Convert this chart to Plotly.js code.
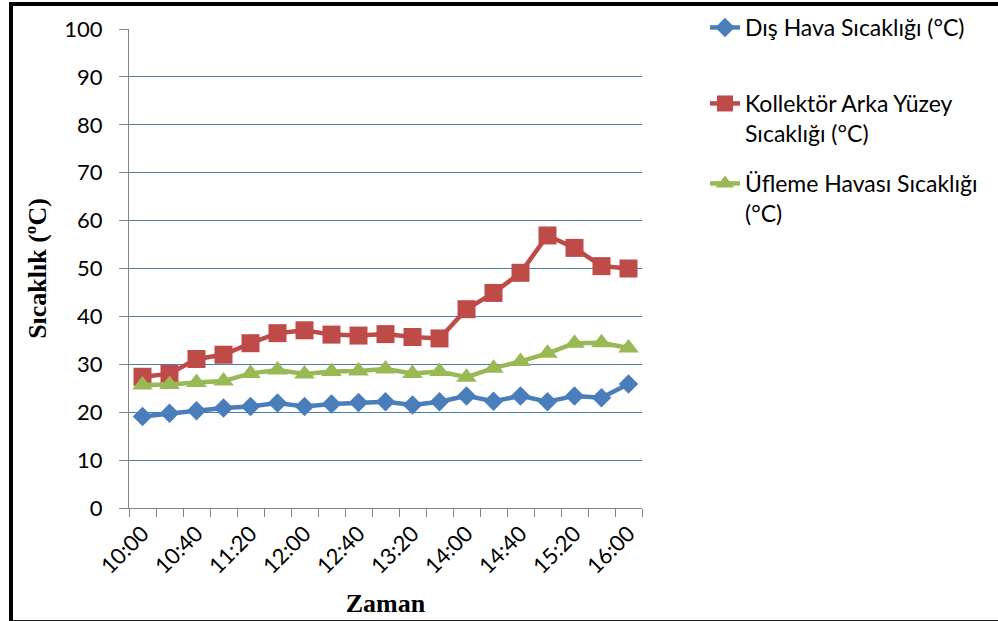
<!DOCTYPE html>
<html>
<head>
<meta charset="utf-8">
<script src="https://cdn.plot.ly/plotly-3.0.1.min.js"></script>
<style>
  html, body { margin: 0; padding: 0; background: #fff; }
  #chart { width: 998px; height: 621px; position: relative; }
  #frame { position: absolute; left: 9px; top: 2px; width: 1000px; height: 614px;
           border-top: 4px solid #000; border-left: 4px solid #000; border-bottom: 2px solid #222;
           pointer-events: none; box-sizing: content-box; }
</style>
</head>
<body>
<div id="chart"></div>
<div id="frame"></div>
<script>
const times = ["10:00","10:20","10:40","11:00","11:20","11:40","12:00","12:20","12:40","13:00",
               "13:20","13:40","14:00","14:20","14:40","15:00","15:20","15:40","16:00"];
const tickLabels = ["10:00","","10:40","","11:20","","12:00","","12:40","",
                    "13:20","","14:00","","14:40","","15:20","","16:00"];
const disHava = [19.1, 19.8, 20.3, 20.9, 21.2, 21.9, 21.2, 21.7, 22.0, 22.2,
                 21.5, 22.2, 23.4, 22.3, 23.4, 22.2, 23.4, 23.0, 25.9];
const kollektor = [27.4, 28.0, 31.1, 32.0, 34.4, 36.5, 37.1, 36.2, 36.0, 36.3,
                   35.7, 35.4, 41.5, 44.9, 49.1, 56.9, 54.3, 50.5, 50.0];
const ufleme = [25.7, 25.8, 26.2, 26.5, 28.1, 28.8, 28.0, 28.5, 28.6, 29.0,
                28.1, 28.5, 27.3, 29.2, 30.6, 32.3, 34.4, 34.5, 33.4];
const seriesNames = ["Dış Hava Sıcaklığı (°C)", "Kollektör Arka Yüzey<br>Sıcaklığı (°C)", "Üfleme Havası Sıcaklığı<br>(°C)"];

const sans = "Lato, 'Noto Sans', sans-serif";
const serif = "'Liberation Serif', 'DejaVu Serif', serif";

const traces = [
  {x: times, y: disHava, name: seriesNames[0], type: "scatter", mode: "lines+markers", legend: "legend",
   line: {color: "#4a7ebb", width: 4.5}, marker: {symbol: "diamond", size: 15, color: "#4a7ebb"}},
  {x: times, y: kollektor, name: seriesNames[1], type: "scatter", mode: "lines+markers", legend: "legend2",
   line: {color: "#be4b48", width: 4.5}, marker: {symbol: "square", size: 18, color: "#be4b48"}},
  {x: times, y: ufleme, name: seriesNames[2], type: "scatter", mode: "lines+markers", legend: "legend3",
   line: {color: "#98b954", width: 4.5}, marker: {symbol: "triangle-up", size: 18, color: "#98b954"}}
];

function legendAt(topPx) {
  return {xref: "container", yref: "container", x: 705 / 998, xanchor: "left",
          y: 1 - topPx / 621, yanchor: "top", valign: "top",
          font: {family: sans, size: 23, color: "#000"}, bgcolor: "rgba(0,0,0,0)"};
}

const layout = {
  width: 998, height: 621,
  margin: {l: 129, r: 356, t: 29, b: 113},
  paper_bgcolor: "#fff", plot_bgcolor: "#fff",
  showlegend: true,
  legend: legendAt(6),
  legend2: legendAt(82),
  legend3: legendAt(162),
  xaxis: {type: "category", tickvals: times, ticktext: tickLabels, tickangle: -45, automargin: false,
          tickson: "boundaries", ticks: "outside", ticklen: 8, tickcolor: "#868686",
          showline: true, linecolor: "#868686", linewidth: 1, showgrid: false, zeroline: false,
          tickfont: {family: sans, size: 22, color: "#000"}, ticklabelstandoff: 3,
          range: [-0.5, 18.5],
          title: {text: "<b>Zaman</b>", font: {family: serif, size: 26, color: "#000"}, standoff: 16}},
  yaxis: {range: [0, 100], dtick: 10, tick0: 0, ticks: "outside", ticklen: 9, tickcolor: "#868686",
          showline: true, linecolor: "#868686", linewidth: 1, automargin: false,
          showgrid: true, gridcolor: "#4a7ebb", gridwidth: 1, zeroline: false,
          tickfont: {family: sans, size: 22, color: "#000"}, ticklabelstandoff: 12,
          title: {text: "<b>Sıcaklık (ºC)</b>", font: {family: serif, size: 26, color: "#000"}, standoff: 10}}
};

Plotly.newPlot("chart", traces, layout, {displayModeBar: false, staticPlot: true});
</script>
</body>
</html>
